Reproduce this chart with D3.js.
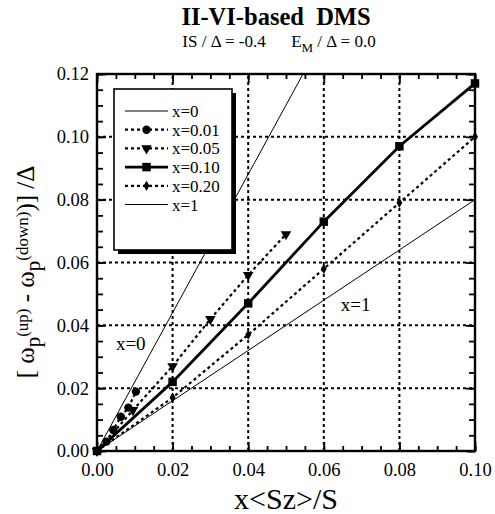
<!DOCTYPE html>
<html><head><meta charset="utf-8">
<script src="https://cdn.jsdelivr.net/npm/d3@7/dist/d3.min.js"></script>
<style>
html,body{margin:0;padding:0;background:#fff;}
svg text{font-family:"Liberation Serif","Times New Roman",serif;fill:#000;}
</style></head>
<body><svg id="c" width="495" height="514"></svg>
<script>
// ---- data ----
const seriesNames = ["x=0","x=0.01","x=0.05","x=0.10","x=0.20","x=1"];
const x0_x = [0, 0.0545];
const x0_y = [0, 0.12];
const x001_x = [0, 0.0025, 0.0043, 0.0063, 0.0083, 0.0103];
const x001_y = [0, 0.003, 0.0067, 0.0109, 0.0138, 0.0189];
const x005_x = [0, 0.0095, 0.02, 0.03, 0.04, 0.05];
const x005_y = [0, 0.013, 0.027, 0.042, 0.056, 0.069];
const x010_x = [0, 0.02, 0.04, 0.06, 0.08, 0.10];
const x010_y = [0, 0.022, 0.047, 0.073, 0.097, 0.117];
const x020_x = [0, 0.02, 0.04, 0.06, 0.08, 0.10];
const x020_y = [0, 0.017, 0.037, 0.058, 0.079, 0.100];
const x1_x = [0, 0.10];
const x1_y = [0, 0.08];
const xTicks = [0, 0.02, 0.04, 0.06, 0.08, 0.10];
const yTicks = [0, 0.02, 0.04, 0.06, 0.08, 0.10, 0.12];

// ---- layout ----
const svg = d3.select("#c");
const L = 97, R = 475, T = 74, B = 451;
const x = d3.scaleLinear().domain([0, 0.10]).range([L, R]);
const y = d3.scaleLinear().domain([0, 0.12]).range([B, T]);

svg.append("defs").append("clipPath").attr("id","clip")
  .append("rect").attr("x",L).attr("y",T).attr("width",R-L).attr("height",B-T);

// grid
const grid = svg.append("g").attr("stroke","#000").attr("stroke-width",2).attr("stroke-dasharray","3,3");
xTicks.slice(1,-1).forEach(v=>grid.append("line").attr("x1",x(v)).attr("x2",x(v)).attr("y1",B).attr("y2",T));
yTicks.slice(1,-1).forEach(v=>grid.append("line").attr("y1",y(v)).attr("y2",y(v)).attr("x1",L).attr("x2",R));

// axes with inward ticks
const xMinor = d3.range(0, 0.1001, 0.005);
const yMinor = d3.range(0, 0.1201, 0.005);
const fmt = d3.format(".2f");
const axB = svg.append("g").attr("transform",`translate(0,${B})`)
  .call(d3.axisBottom(x).tickValues(xTicks).tickFormat(fmt).tickSizeInner(-9).tickSizeOuter(0).tickPadding(12));
const axBm = svg.append("g").attr("transform",`translate(0,${B})`)
  .call(d3.axisBottom(x).tickValues(xMinor).tickFormat("").tickSizeInner(-5).tickSizeOuter(0));
const axT = svg.append("g").attr("transform",`translate(0,${T})`)
  .call(d3.axisTop(x).tickValues(xTicks).tickFormat("").tickSizeInner(-9).tickSizeOuter(0));
const axTm = svg.append("g").attr("transform",`translate(0,${T})`)
  .call(d3.axisTop(x).tickValues(xMinor).tickFormat("").tickSizeInner(-5).tickSizeOuter(0));
const axL = svg.append("g").attr("transform",`translate(${L},0)`)
  .call(d3.axisLeft(y).tickValues(yTicks).tickFormat(fmt).tickSizeInner(-9).tickSizeOuter(0).tickPadding(8));
const axLm = svg.append("g").attr("transform",`translate(${L},0)`)
  .call(d3.axisLeft(y).tickValues(yMinor).tickFormat("").tickSizeInner(-6).tickSizeOuter(0));
const axR = svg.append("g").attr("transform",`translate(${R},0)`)
  .call(d3.axisRight(y).tickValues(yTicks).tickFormat("").tickSizeInner(-9).tickSizeOuter(0));
const axRm = svg.append("g").attr("transform",`translate(${R},0)`)
  .call(d3.axisRight(y).tickValues(yMinor).tickFormat("").tickSizeInner(-6).tickSizeOuter(0));
[axB,axBm,axT,axTm,axL,axLm,axR,axRm].forEach(a=>{
  a.select(".domain").remove();
  a.selectAll("line").attr("stroke","#000").attr("stroke-width",1.8);
  a.selectAll("text").attr("font-family",null).style("font-size","18.5px").attr("fill","#000");
});
svg.append("rect").attr("x",L).attr("y",T).attr("width",R-L).attr("height",B-T)
  .attr("fill","none").attr("stroke","#000").attr("stroke-width",2.4);

// series
const zip = (xs,ys)=>xs.map((v,i)=>[v,ys[i]]);
const line = d3.line().x(d=>x(d[0])).y(d=>y(d[1]));
const series = [
  {name:"x=0",   data:zip(x0_x,x0_y),     w:1,   dash:null,  marker:null},
  {name:"x=0.01",data:zip(x001_x,x001_y), w:2.2, dash:"3,3", marker:"circle"},
  {name:"x=0.05",data:zip(x005_x,x005_y), w:2.2, dash:"3,3", marker:"tri"},
  {name:"x=0.10",data:zip(x010_x,x010_y), w:2.8, dash:null,  marker:"square"},
  {name:"x=0.20",data:zip(x020_x,x020_y), w:2.2, dash:"3,3", marker:"diamond"},
  {name:"x=1",   data:zip(x1_x,x1_y),     w:1,   dash:null,  marker:null}
];
const sym = {
  circle: d3.symbol().type(d3.symbolCircle).size(55),
  tri: d3.symbol().type(d3.symbolTriangle).size(48),
  square: d3.symbol().type(d3.symbolSquare).size(72),
  diamond: d3.symbol().type(d3.symbolDiamond).size(30)
};
const plot = svg.append("g").attr("clip-path","url(#clip)");
series.forEach(s=>{
  plot.append("path").attr("d",line(s.data)).attr("fill","none").attr("stroke","#000")
    .attr("stroke-width",s.w).attr("stroke-dasharray",s.dash);
});
const mk = svg.append("g");
series.forEach(s=>{
  if(!s.marker) return;
  s.data.forEach(d=>{
    mk.append("path").attr("d",sym[s.marker]())
      .attr("transform",`translate(${x(d[0])},${y(d[1])})${s.marker==="tri"?" rotate(180)":""}`)
      .attr("fill","#000");
  });
});

// in-plot labels
svg.append("text").attr("x",x(0.005)).attr("y",y(0.0322)).style("font-size","19px").text("x=0");
svg.append("text").attr("x",x(0.0645)).attr("y",y(0.0445)).style("font-size","19px").text("x=1");

// legend
const lgX = 114, lgY = 89, lgW = 118, lgH = 161;
svg.append("rect").attr("x",lgX+4).attr("y",lgY+4).attr("width",lgW).attr("height",lgH).attr("fill","#000");
svg.append("rect").attr("x",lgX).attr("y",lgY).attr("width",lgW).attr("height",lgH)
  .attr("fill","#fff").attr("stroke","#000").attr("stroke-width",1.6);
series.forEach((s,i)=>{
  const yy = 111 + i*18.7;
  svg.append("line").attr("x1",125).attr("x2",168).attr("y1",yy).attr("y2",yy)
    .attr("stroke","#000").attr("stroke-width",s.w).attr("stroke-dasharray",s.dash);
  if(s.marker) svg.append("path").attr("d",sym[s.marker]())
    .attr("transform",`translate(146.5,${yy})${s.marker==="tri"?" rotate(180)":""}`).attr("fill","#000");
  svg.append("text").attr("x",172).attr("y",yy+6).style("font-size","17px").text(s.name);
});

// titles
svg.append("text").attr("x",276).attr("y",25).attr("text-anchor","middle")
  .style("font-size","24.5px").style("font-weight","bold").style("white-space","pre").text("II-VI-based  DMS");
const sub = svg.append("text").attr("x",279).attr("y",47).attr("text-anchor","middle")
  .style("font-size","17px").style("white-space","pre");
sub.append("tspan").text("IS / \u0394 = -0.4      E");
sub.append("tspan").attr("dy",5).style("font-size","13px").text("M");
sub.append("tspan").attr("dy",-5).text(" / \u0394 = 0.0");

// axis titles
svg.append("text").attr("x",286).attr("y",509).attr("text-anchor","middle")
  .style("font-size","30px").text("x<Sz>/S");
const yl = svg.append("text").attr("transform","translate(34,272) rotate(-90)")
  .attr("text-anchor","middle").style("font-size","25px").style("white-space","pre");
yl.append("tspan").text("[ \u03c9");
yl.append("tspan").attr("dy",6).style("font-size","21px").text("p");
yl.append("tspan").attr("dy",-12).style("font-size","17px").text("(up)");
yl.append("tspan").attr("dy",6).text(" - \u03c9");
yl.append("tspan").attr("dy",6).style("font-size","21px").text("p");
yl.append("tspan").attr("dy",-12).style("font-size","17px").text("(down)");
yl.append("tspan").attr("dy",6).text(")] /\u0394");
</script></body></html>
